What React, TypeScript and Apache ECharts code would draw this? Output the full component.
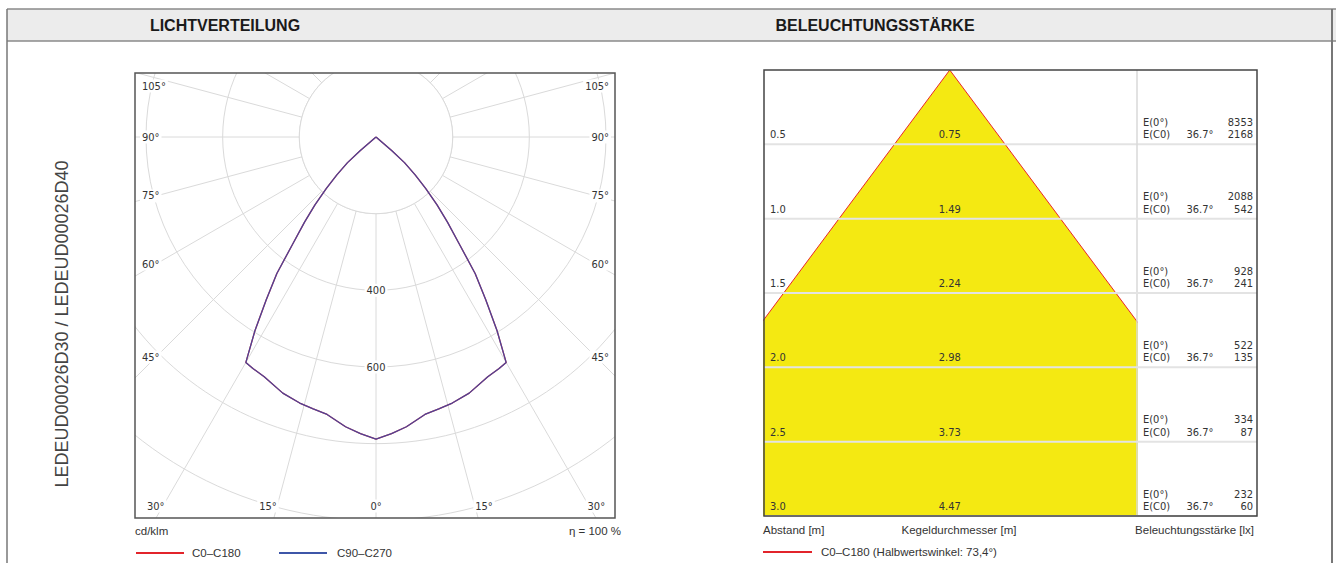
import React, { useEffect, useRef } from "react";
import * as echarts from "echarts";

// ---------- LICHTVERTEILUNG (polar light distribution, cd/klm) ----------
const polarAngles = [0, 3, 6, 10, 13, 16, 20, 25, 28, 30, 32, 34, 36, 38, 40, 42, 44, 46, 48, 49, 50];
const intensityC0C180 = [788, 775, 760, 735, 728, 722, 711, 690, 684, 679, 596, 512, 440, 350, 290, 238, 187, 142, 100, 55, 0];
const intensityC90C270 = [788, 775, 760, 735, 728, 722, 711, 690, 684, 679, 596, 512, 440, 350, 290, 238, 187, 142, 100, 55, 0];
const radiusMax = 1200;
const radiusStep = 200;
const radiusLabels = [400, 600];
const sideAngleLabels = [105, 90, 75, 60, 45];
const bottomAngleLabels = [30, 15, 0];

// ---------- BELEUCHTUNGSSTÄRKE (illuminance cone) ----------
const distances = [0.5, 1.0, 1.5, 2.0, 2.5, 3.0];
const diameters = [0.75, 1.49, 2.24, 2.98, 3.73, 4.47];
const eCenter = [8353, 2088, 928, 522, 334, 232];
const eC0 = [2168, 542, 241, 135, 87, 60];
const beamAngleLabel = "36.7°";

const SANS = "'Liberation Sans', Arial, Helvetica, sans-serif";
const SMALL = "'DejaVu Sans Condensed', 'DejaVu Sans', Verdana, sans-serif";
const SMALL_SIZE = 11;

function buildPolar(vals: number[]) {
  const pts: number[][] = [];
  for (let i = polarAngles.length - 1; i >= 1; i--) pts.push([vals[i], 360 - polarAngles[i]]);
  for (let i = 0; i < polarAngles.length; i++) pts.push([vals[i], polarAngles[i]]);
  return pts;
}

function txt(x: number, y: number, text: string, o: any = {}) {
  return {
    type: "text",
    x,
    y,
    z: o.z ?? 60,
    rotation: o.rotation ?? 0,
    style: {
      text,
      fill: o.fill ?? "#333",
      fontSize: o.fontSize ?? SMALL_SIZE,
      fontFamily: o.fontFamily ?? SMALL,
      fontWeight: o.fontWeight ?? "normal",
      align: o.align ?? "left",
      verticalAlign: "middle",
      backgroundColor: o.bg,
      padding: o.bg ? [1, 2] : undefined,
    },
  };
}

function hline(x1: number, x2: number, y: number, stroke: string, w: number, z = 55) {
  return { type: "line", z, shape: { x1, y1: y, x2, y2: y }, style: { stroke, lineWidth: w } };
}
function vline(x: number, y1: number, y2: number, stroke: string, w: number, z = 55) {
  return { type: "line", z, shape: { x1: x, y1, x2: x, y2 }, style: { stroke, lineWidth: w } };
}

export default function App() {
  const leftRef = useRef<HTMLDivElement>(null);
  const rightRef = useRef<HTMLDivElement>(null);

  useEffect(() => {
    // ---------------- LEFT: polar ----------------
    const left = echarts.init(leftRef.current!, null, { renderer: "svg" });
    left.setOption({
      animation: false,
      polar: { center: [376, 137], radius: [0, 460] },
      angleAxis: {
        type: "value",
        min: 0,
        max: 360,
        interval: 15,
        startAngle: 270,
        clockwise: true,
        axisLine: { show: false },
        axisTick: { show: false },
        axisLabel: { show: false },
        splitLine: { show: true, lineStyle: { color: "#dadada", width: 1 } },
      },
      radiusAxis: {
        type: "value",
        min: 0,
        max: radiusMax,
        interval: radiusStep,
        axisLine: { show: false },
        axisTick: { show: false },
        axisLabel: { show: false },
        splitLine: { show: true, lineStyle: { color: "#dadada", width: 1 } },
      },
      series: [
        {
          name: "C0–C180",
          type: "line",
          coordinateSystem: "polar",
          data: buildPolar(intensityC0C180),
          symbol: "none",
          lineStyle: { color: "#e3262e", width: 1.3 },
          z: 5,
        },
        {
          name: "C90–C270",
          type: "line",
          coordinateSystem: "polar",
          data: buildPolar(intensityC90C270),
          symbol: "none",
          lineStyle: { color: "#3248a8", width: 1.3, opacity: 0.85 },
          z: 6,
        },
      ],
    });

    const px = (r: number, a: number) => {
      const p = left.convertToPixel({ seriesIndex: 0 } as any, [r, a]) as any;
      return p as number[];
    };
    const [cx, cy] = px(0, 0);
    const innerR = Math.abs(px(radiusStep, 0)[1] - cy);
    const box = { x: 135, y: 73, w: 480, h: 445 };
    const g: any[] = [];
    // hide spokes inside the innermost circle
    g.push({ type: "circle", z: 1, shape: { cx, cy, r: innerR }, style: { fill: "#fff", stroke: "#dadada", lineWidth: 1 } });
    radiusLabels.forEach((v) => {
      const p = px(v, 0);
      g.push(txt(p[0], p[1], String(v), { align: "center", bg: "#fff", z: 3 }));
    });
    // masks outside the frame
    g.push({ type: "rect", z: 50, shape: { x: 0, y: 0, width: box.x, height: 563 }, style: { fill: "#fff" } });
    g.push({ type: "rect", z: 50, shape: { x: box.x + box.w, y: 0, width: 100, height: 563 }, style: { fill: "#fff" } });
    g.push({ type: "rect", z: 50, shape: { x: 0, y: 0, width: 700, height: box.y }, style: { fill: "#fff" } });
    g.push({ type: "rect", z: 50, shape: { x: 0, y: box.y + box.h, width: 700, height: 100 }, style: { fill: "#fff" } });
    g.push({ type: "rect", z: 51, shape: { x: box.x, y: box.y, width: box.w, height: box.h }, style: { fill: "none", stroke: "#555", lineWidth: 1.5 } });
    // angle labels on the sides
    sideAngleLabels.forEach((a) => {
      const t = Math.tan((a * Math.PI) / 180);
      let y = cy + (cx - (box.x + 21)) / t;
      y = Math.max(box.y + 13, y);
      g.push(txt(box.x + 5, y, a + "°", { align: "left", bg: "#fff" }));
      g.push(txt(box.x + box.w - 4, y, a + "°", { align: "right", bg: "#fff" }));
    });
    // angle labels at the bottom
    const by = box.y + box.h - 12;
    bottomAngleLabels.forEach((a) => {
      if (a === 0) {
        g.push(txt(cx, by, "0°", { align: "center", bg: "#fff" }));
        return;
      }
      const dx = (by - 6 - cy) * Math.tan((a * Math.PI) / 180);
      g.push(txt(cx - dx, by, a + "°", { align: "right", bg: "#fff" }));
      g.push(txt(cx + dx, by, a + "°", { align: "left", bg: "#fff" }));
    });
    // header + borders
    g.push({ type: "rect", z: 55, shape: { x: 7, y: 9, width: 660, height: 32 }, style: { fill: "#ececec" } });
    g.push(hline(7, 660, 9, "#8a8a8a", 1.5, 56));
    g.push(hline(7, 660, 41, "#8a8a8a", 1.5, 56));
    g.push(vline(7, 9, 563, "#777", 1.5, 56));
    g.push(txt(225, 25, "LICHTVERTEILUNG", { align: "center", fontFamily: SANS, fontSize: 16, fontWeight: "bold", fill: "#1a1a1a" }));
    g.push(txt(62, 324, "LEDEUD00026D30 / LEDEUD00026D40", { align: "center", fontFamily: SANS, fontSize: 18, fill: "#444", rotation: Math.PI / 2 }));
    g.push(txt(box.x, 531, "cd/klm", { fontFamily: SANS, fontSize: 11.5 }));
    g.push(txt(621, 531, "η = 100 %", { align: "right", fontFamily: SANS, fontSize: 11.5 }));
    g.push(hline(136, 184, 553, "#e2242b", 2, 60));
    g.push(txt(192, 553, "C0–C180", { fontFamily: SANS, fontSize: 11.5 }));
    g.push(hline(279, 327, 553, "#3e56a8", 2, 60));
    g.push(txt(337, 553, "C90–C270", { fontFamily: SANS, fontSize: 11.5 }));
    left.setOption({ graphic: { elements: g } });

    // ---------------- RIGHT: illuminance cone ----------------
    const right = echarts.init(rightRef.current!, null, { renderer: "svg" });
    const lastD = distances[distances.length - 1];
    const lastHalf = diameters[diameters.length - 1] / 2;
    const cone = [
      [-lastHalf, lastD],
      [0, 0],
      [lastHalf, lastD],
    ];
    const gridL = 114, gridT = 70, gridW = 373, gridH = 446, tableW = 120;
    right.setOption({
      animation: false,
      grid: { left: gridL, top: gridT, width: gridW, height: gridH },
      xAxis: { type: "value", min: -1.25, max: 1.26, show: false },
      yAxis: { type: "value", inverse: true, min: 0, max: 3, interval: 0.5, show: false },
      series: [
        {
          name: "C0–C180 (Halbwertswinkel: 73,4°)",
          type: "line",
          data: cone,
          symbol: "none",
          clip: true,
          lineStyle: { color: "#e8262b", width: 1 },
          areaStyle: { color: "#f4e912", opacity: 1, origin: "end" },
          z: 2,
        },
        {
          type: "custom",
          z: 5,
          data: distances.map((d) => [0, d]),
          renderItem: (params: any, api: any) => {
            const i = params.dataIndex;
            const cs = params.coordSys;
            const p = api.coord([0, distances[i]]);
            const ax = p[0], y = p[1];
            const l = cs.x, r = cs.x + cs.width, tr = r + tableW;
            const st = (text: string, align: string) => ({
              text,
              fill: "#333",
              fontSize: SMALL_SIZE,
              fontFamily: SMALL,
              align,
              verticalAlign: "middle",
            });
            const children: any[] = [
              { type: "line", shape: { x1: l, y1: y, x2: tr, y2: y }, style: { stroke: "#e3e3e3", lineWidth: 2 } },
              { type: "text", x: l + 6, y: y - 9.5, style: st(distances[i].toFixed(1), "left") },
              { type: "text", x: ax, y: y - 9.5, style: st(diameters[i].toFixed(2), "center") },
              { type: "text", x: r + 6, y: y - 22, style: st("E(0°)", "left") },
              { type: "text", x: r + 6, y: y - 9.5, style: st("E(C0)", "left") },
              { type: "text", x: r + 63, y: y - 9.5, style: st(beamAngleLabel, "center") },
              { type: "text", x: tr - 4, y: y - 22, style: st(String(eCenter[i]), "right") },
              { type: "text", x: tr - 4, y: y - 9.5, style: st(String(eC0[i]), "right") },
            ];
            if (i === 0) {
              children.push({ type: "line", shape: { x1: r, y1: cs.y, x2: r, y2: cs.y + cs.height }, style: { stroke: "#d8d8d8", lineWidth: 1.5 } });
            }
            return { type: "group", children };
          },
        },
      ],
      graphic: {
        elements: [
          { type: "rect", z: 10, shape: { x: gridL, y: gridT, width: gridW + tableW, height: gridH }, style: { fill: "none", stroke: "#444", lineWidth: 1.5 } },
          { type: "rect", z: 55, shape: { x: 0, y: 9, width: 686, height: 32 }, style: { fill: "#ececec" } },
          hline(0, 686, 9, "#8a8a8a", 1.5, 56),
          hline(0, 686, 41, "#8a8a8a", 1.5, 56),
          vline(682, 9, 563, "#777", 2, 56),
          txt(225, 25, "BELEUCHTUNGSSTÄRKE", { align: "center", fontFamily: SANS, fontSize: 16, fontWeight: "bold", fill: "#1a1a1a" }),
          txt(gridL - 1, 530, "Abstand [m]", { fontFamily: SANS, fontSize: 11.5 }),
          txt(309, 530, "Kegeldurchmesser [m]", { align: "center", fontFamily: SANS, fontSize: 11.5 }),
          txt(gridL + gridW + tableW - 3, 530, "Beleuchtungsstärke [lx]", { align: "right", fontFamily: SANS, fontSize: 11.5 }),
          hline(113, 162, 552, "#e2242b", 2, 60),
          txt(171, 552, "C0–C180 (Halbwertswinkel: 73,4°)", { fontFamily: SANS, fontSize: 11.5 }),
        ],
      },
    });

    return () => {
      left.dispose();
      right.dispose();
    };
  }, []);

  return (
    <div style={{ position: "absolute", left: 0, top: 0, width: 1336, height: 563, background: "#fff", overflow: "hidden" }}>
      <div ref={leftRef} style={{ position: "absolute", left: 0, top: 0, width: 650, height: 563 }} />
      <div ref={rightRef} style={{ position: "absolute", left: 650, top: 0, width: 686, height: 563 }} />
    </div>
  );
}
